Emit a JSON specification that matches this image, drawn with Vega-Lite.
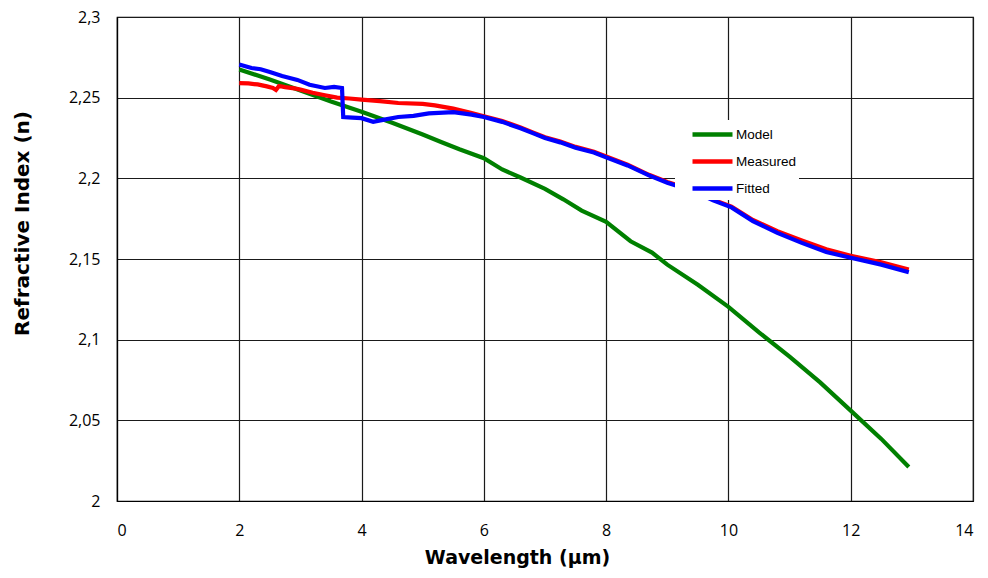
{
  "$schema": "https://vega.github.io/schema/vega-lite/v6.json",
  "width": 856,
  "height": 484,
  "autosize": {"type": "none"},
  "padding": {"left": 117, "top": 17, "right": 15, "bottom": 77},
  "background": "white",
  "config": {
    "view": {"stroke": "#000", "strokeWidth": 1.2},
    "axis": {
      "grid": true,
      "gridColor": "#1a1a1a",
      "gridWidth": 1.2,
      "gridOpacity": 1,
      "domainColor": "#000",
      "domainWidth": 1.2,
      "ticks": false,
      "labelFont": "Open Sans",
      "labelFontSize": 16,
      "labelColor": "#000",
      "titleFont": "DejaVu Sans",
      "titleFontSize": 19,
      "titleFontWeight": "bold",
      "titleColor": "#000"
    },
    "legend": {
      "orient": "none",
      "legendX": 558,
      "legendY": 103,
      "fillColor": "white",
      "padding": 2,
      "symbolType": "M-2,0H2",
      "symbolSize": 400,
      "symbolStrokeWidth": 4.5,
      "symbolOffset": 23,
      "labelOffset": 11,
      "labelFont": "Liberation Sans",
      "labelFontSize": 13.5,
      "labelColor": "#000",
      "rowPadding": 5
    }
  },
  "data": {
    "values": [
      {"series": "Model", "wl": 2.0, "n": 2.2675},
      {"series": "Model", "wl": 2.5, "n": 2.2612},
      {"series": "Model", "wl": 3.0, "n": 2.2545},
      {"series": "Model", "wl": 3.5, "n": 2.2476},
      {"series": "Model", "wl": 4.0, "n": 2.2412},
      {"series": "Model", "wl": 4.5, "n": 2.2345},
      {"series": "Model", "wl": 5.0, "n": 2.2272},
      {"series": "Model", "wl": 5.3, "n": 2.2225},
      {"series": "Model", "wl": 5.6, "n": 2.218},
      {"series": "Model", "wl": 6.0, "n": 2.2125},
      {"series": "Model", "wl": 6.3, "n": 2.2055},
      {"series": "Model", "wl": 6.6, "n": 2.2005},
      {"series": "Model", "wl": 7.0, "n": 2.1935},
      {"series": "Model", "wl": 7.3, "n": 2.187},
      {"series": "Model", "wl": 7.6, "n": 2.18},
      {"series": "Model", "wl": 8.0, "n": 2.173},
      {"series": "Model", "wl": 8.4, "n": 2.161},
      {"series": "Model", "wl": 8.75, "n": 2.154},
      {"series": "Model", "wl": 9.0, "n": 2.1465},
      {"series": "Model", "wl": 9.5, "n": 2.134},
      {"series": "Model", "wl": 10.0, "n": 2.1203},
      {"series": "Model", "wl": 10.5, "n": 2.1045},
      {"series": "Model", "wl": 11.0, "n": 2.0895},
      {"series": "Model", "wl": 11.5, "n": 2.0735},
      {"series": "Model", "wl": 12.0, "n": 2.056},
      {"series": "Model", "wl": 12.5, "n": 2.0385},
      {"series": "Model", "wl": 12.95, "n": 2.0211},

      {"series": "Measured", "wl": 2.0, "n": 2.259},
      {"series": "Measured", "wl": 2.15, "n": 2.2588},
      {"series": "Measured", "wl": 2.3, "n": 2.2582},
      {"series": "Measured", "wl": 2.45, "n": 2.257},
      {"series": "Measured", "wl": 2.55, "n": 2.256},
      {"series": "Measured", "wl": 2.6, "n": 2.2548},
      {"series": "Measured", "wl": 2.65, "n": 2.2572},
      {"series": "Measured", "wl": 2.75, "n": 2.2565},
      {"series": "Measured", "wl": 2.9, "n": 2.2558},
      {"series": "Measured", "wl": 3.0, "n": 2.255},
      {"series": "Measured", "wl": 3.2, "n": 2.253},
      {"series": "Measured", "wl": 3.4, "n": 2.2515},
      {"series": "Measured", "wl": 3.6, "n": 2.25},
      {"series": "Measured", "wl": 3.8, "n": 2.2495},
      {"series": "Measured", "wl": 4.0, "n": 2.2488},
      {"series": "Measured", "wl": 4.3, "n": 2.2478},
      {"series": "Measured", "wl": 4.6, "n": 2.2467},
      {"series": "Measured", "wl": 5.0, "n": 2.2462},
      {"series": "Measured", "wl": 5.2, "n": 2.2452},
      {"series": "Measured", "wl": 5.5, "n": 2.2432},
      {"series": "Measured", "wl": 5.8, "n": 2.2405},
      {"series": "Measured", "wl": 6.0, "n": 2.2385},
      {"series": "Measured", "wl": 6.3, "n": 2.2355},
      {"series": "Measured", "wl": 6.6, "n": 2.2315},
      {"series": "Measured", "wl": 6.8, "n": 2.2285},
      {"series": "Measured", "wl": 7.0, "n": 2.2255},
      {"series": "Measured", "wl": 7.25, "n": 2.2228},
      {"series": "Measured", "wl": 7.5, "n": 2.2195},
      {"series": "Measured", "wl": 7.8, "n": 2.2165},
      {"series": "Measured", "wl": 8.0, "n": 2.2135},
      {"series": "Measured", "wl": 8.35, "n": 2.2085},
      {"series": "Measured", "wl": 8.7, "n": 2.2022},
      {"series": "Measured", "wl": 9.0, "n": 2.1978},
      {"series": "Measured", "wl": 9.4, "n": 2.193},
      {"series": "Measured", "wl": 9.75, "n": 2.1868},
      {"series": "Measured", "wl": 10.05, "n": 2.1825},
      {"series": "Measured", "wl": 10.4, "n": 2.1742},
      {"series": "Measured", "wl": 10.8, "n": 2.1672},
      {"series": "Measured", "wl": 11.2, "n": 2.1615},
      {"series": "Measured", "wl": 11.6, "n": 2.156},
      {"series": "Measured", "wl": 12.0, "n": 2.152},
      {"series": "Measured", "wl": 12.5, "n": 2.148},
      {"series": "Measured", "wl": 12.95, "n": 2.1435},

      {"series": "Fitted", "wl": 2.0, "n": 2.2705},
      {"series": "Fitted", "wl": 2.1, "n": 2.2695},
      {"series": "Fitted", "wl": 2.2, "n": 2.2684},
      {"series": "Fitted", "wl": 2.35, "n": 2.2676},
      {"series": "Fitted", "wl": 2.5, "n": 2.2659},
      {"series": "Fitted", "wl": 2.7, "n": 2.2634},
      {"series": "Fitted", "wl": 2.95, "n": 2.261},
      {"series": "Fitted", "wl": 3.15, "n": 2.258},
      {"series": "Fitted", "wl": 3.4, "n": 2.256},
      {"series": "Fitted", "wl": 3.55, "n": 2.2567},
      {"series": "Fitted", "wl": 3.68, "n": 2.256},
      {"series": "Fitted", "wl": 3.7, "n": 2.238},
      {"series": "Fitted", "wl": 3.85, "n": 2.2376},
      {"series": "Fitted", "wl": 4.0, "n": 2.2373},
      {"series": "Fitted", "wl": 4.19, "n": 2.235},
      {"series": "Fitted", "wl": 4.35, "n": 2.2362},
      {"series": "Fitted", "wl": 4.6, "n": 2.238},
      {"series": "Fitted", "wl": 4.85, "n": 2.2387},
      {"series": "Fitted", "wl": 5.1, "n": 2.2403},
      {"series": "Fitted", "wl": 5.5, "n": 2.241},
      {"series": "Fitted", "wl": 5.8, "n": 2.2395},
      {"series": "Fitted", "wl": 6.0, "n": 2.238},
      {"series": "Fitted", "wl": 6.3, "n": 2.235},
      {"series": "Fitted", "wl": 6.6, "n": 2.231},
      {"series": "Fitted", "wl": 6.8, "n": 2.228},
      {"series": "Fitted", "wl": 7.0, "n": 2.225},
      {"series": "Fitted", "wl": 7.25, "n": 2.2223},
      {"series": "Fitted", "wl": 7.5, "n": 2.219},
      {"series": "Fitted", "wl": 7.8, "n": 2.216},
      {"series": "Fitted", "wl": 8.0, "n": 2.213},
      {"series": "Fitted", "wl": 8.35, "n": 2.208},
      {"series": "Fitted", "wl": 8.7, "n": 2.2018},
      {"series": "Fitted", "wl": 9.0, "n": 2.1973},
      {"series": "Fitted", "wl": 9.4, "n": 2.1925},
      {"series": "Fitted", "wl": 9.75, "n": 2.1863},
      {"series": "Fitted", "wl": 10.05, "n": 2.182},
      {"series": "Fitted", "wl": 10.4, "n": 2.1735},
      {"series": "Fitted", "wl": 10.8, "n": 2.1662},
      {"series": "Fitted", "wl": 11.2, "n": 2.16},
      {"series": "Fitted", "wl": 11.6, "n": 2.1543},
      {"series": "Fitted", "wl": 12.0, "n": 2.1508},
      {"series": "Fitted", "wl": 12.5, "n": 2.1465},
      {"series": "Fitted", "wl": 12.95, "n": 2.1418}
    ]
  },
  "mark": {"type": "line", "strokeWidth": 4.2},
  "encoding": {
    "x": {
      "field": "wl",
      "type": "quantitative",
      "scale": {"domain": [0, 14], "nice": false},
      "axis": {
        "values": [0, 2, 4, 6, 8, 10, 12, 14],
        "labelPadding": 21,
        "title": "Wavelength (µm)",
        "titleX": 400,
        "titleY": 56,
        "titleBaseline": "middle"
      }
    },
    "y": {
      "field": "n",
      "type": "quantitative",
      "scale": {"domain": [2, 2.3], "nice": false, "zero": false},
      "axis": {
        "values": [2, 2.05, 2.1, 2.15, 2.2, 2.25, 2.3],
        "labelPadding": 17,
        "labelExpr": "replace(format(datum.value, '~g'), '.', ',')",
        "title": "Refractive Index (n)",
        "titleFontSize": 20,
        "titleX": -95,
        "titleY": 206,
        "titleAngle": 270,
        "titleAlign": "center",
        "titleBaseline": "middle"
      }
    },
    "color": {
      "field": "series",
      "type": "nominal",
      "scale": {
        "domain": ["Model", "Measured", "Fitted"],
        "range": ["#008000", "#ff0000", "#0000ff"]
      },
      "legend": {"title": null}
    }
  }
}
